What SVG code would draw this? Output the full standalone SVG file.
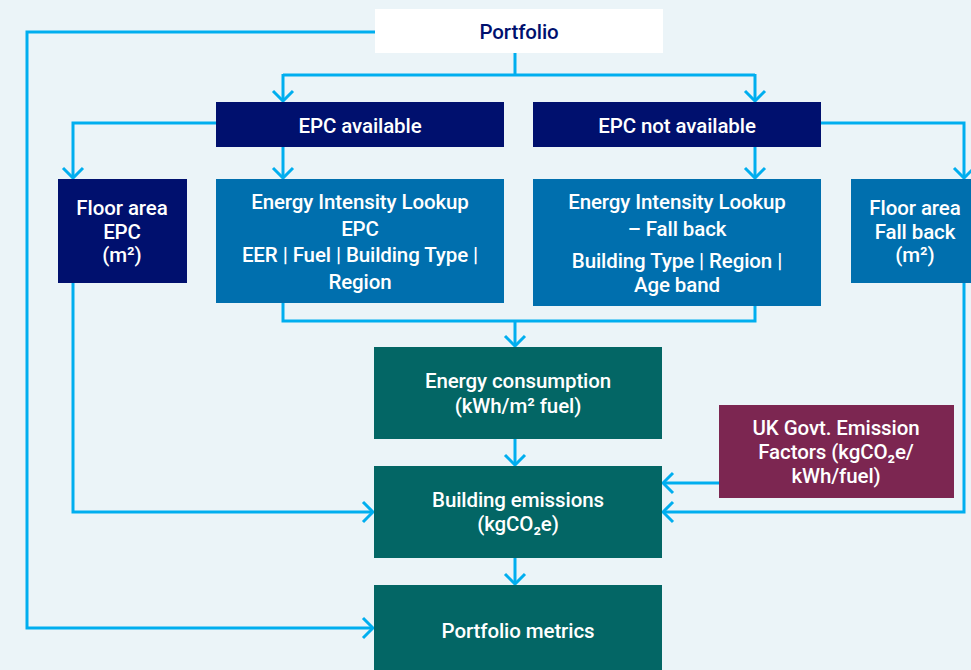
<svg xmlns="http://www.w3.org/2000/svg" width="971" height="670" viewBox="0 0 971 670">
  <style>
    .bg { fill: #ebf4f8; }
    .white { fill: #ffffff; }
    .navy { fill: #00106e; }
    .blue { fill: #006fae; }
    .teal { fill: #036665; }
    .plum { fill: #7c2651; }
    text { font-family: Roboto, "Noto Sans", sans-serif; font-weight: 500; font-size: 20.5px; text-anchor: middle; fill: #ffffff; letter-spacing: -0.1px; }
    text.dark { fill: #00106e; }
    .wire { fill: none; stroke: #00aeef; stroke-width: 3; }
  </style>
  <defs>
    <!-- open chevron arrowhead, tip at the end of the line -->
    <marker id="chev" viewBox="0 0 14 24" refX="12" refY="12" markerWidth="14" markerHeight="24" markerUnits="userSpaceOnUse" orient="auto">
      <path d="M2 2 L12 12 L2 22" fill="none" stroke="#00aeef" stroke-width="3"/>
    </marker>
  </defs>

  <rect class="bg" x="0" y="0" width="971" height="670"/>

  <!-- connectors -->
  <g id="connectors">
    <!-- Portfolio splits to the two EPC branches -->
    <path class="wire" d="M515 53 V75"/>
    <path class="wire" d="M283 75 H755"/>
    <path class="wire" d="M283 74 V101" marker-end="url(#chev)"/>
    <path class="wire" d="M755 74 V101" marker-end="url(#chev)"/>
    <!-- EPC available -> floor area / lookup -->
    <path class="wire" d="M216 123 H73 V178" marker-end="url(#chev)"/>
    <path class="wire" d="M283 147 V178" marker-end="url(#chev)"/>
    <!-- EPC not available -> lookup / floor area -->
    <path class="wire" d="M821 123 H964 V178" marker-end="url(#chev)"/>
    <path class="wire" d="M755 147 V178" marker-end="url(#chev)"/>
    <!-- lookups merge into energy consumption -->
    <path class="wire" d="M283 303 V321 H755 V306"/>
    <path class="wire" d="M515 321 V346" marker-end="url(#chev)"/>
    <!-- energy consumption -> building emissions -> metrics -->
    <path class="wire" d="M515 439 V465" marker-end="url(#chev)"/>
    <path class="wire" d="M515 558 V584" marker-end="url(#chev)"/>
    <!-- floor areas into building emissions -->
    <path class="wire" d="M73 283 V512 H373" marker-end="url(#chev)"/>
    <path class="wire" d="M964 283 V512 H663" marker-end="url(#chev)"/>
    <!-- emission factors into building emissions -->
    <path class="wire" d="M719 483 H663" marker-end="url(#chev)"/>
    <!-- portfolio straight to metrics -->
    <path class="wire" d="M375 32 H27 V628 H373" marker-end="url(#chev)"/>
  </g>

  <g id="portfolio">
    <rect class="white" x="375" y="9" width="288" height="44"/>
    <text class="dark" x="519" y="39">Portfolio</text>
  </g>

  <g id="epc-available">
    <rect class="navy" x="216" y="102" width="288" height="45"/>
    <text x="360" y="133">EPC available</text>
  </g>

  <g id="epc-not-available">
    <rect class="navy" x="533" y="102" width="288" height="45"/>
    <text x="677" y="133">EPC not available</text>
  </g>

  <g id="floor-area-epc">
    <rect class="navy" x="58" y="179" width="129" height="104"/>
    <text x="122" y="215">Floor area</text>
    <text x="122" y="239">EPC</text>
    <text x="122" y="262">(m²)</text>
  </g>

  <g id="lookup-epc">
    <rect class="blue" x="216" y="179" width="288" height="124"/>
    <text x="360" y="209">Energy Intensity Lookup</text>
    <text x="360" y="236">EPC</text>
    <text x="360" y="262">EER | Fuel | Building Type |</text>
    <text x="360" y="289">Region</text>
  </g>

  <g id="lookup-fallback">
    <rect class="blue" x="533" y="179" width="288" height="127"/>
    <text x="677" y="209">Energy Intensity Lookup</text>
    <text x="677" y="236">– Fall back</text>
    <text x="677" y="268">Building Type | Region |</text>
    <text x="677" y="292">Age band</text>
  </g>

  <g id="floor-area-fallback">
    <rect class="blue" x="851" y="179" width="129" height="104"/>
    <text x="915" y="215">Floor area</text>
    <text x="915" y="239">Fall back</text>
    <text x="915" y="262">(m²)</text>
  </g>

  <g id="energy-consumption">
    <rect class="teal" x="374" y="347" width="288" height="92"/>
    <text x="518" y="388">Energy consumption</text>
    <text x="518" y="413">(kWh/m² fuel)</text>
  </g>

  <g id="emission-factors">
    <rect class="plum" x="719" y="405" width="235" height="93"/>
    <text x="836" y="435">UK Govt. Emission</text>
    <text x="836" y="459">Factors (kgCO₂e/</text>
    <text x="836" y="483">kWh/fuel)</text>
  </g>

  <g id="building-emissions">
    <rect class="teal" x="374" y="466" width="288" height="92"/>
    <text x="518" y="507">Building emissions</text>
    <text x="518" y="531">(kgCO₂e)</text>
  </g>

  <g id="portfolio-metrics">
    <rect class="teal" x="374" y="585" width="288" height="90"/>
    <text x="518" y="638">Portfolio metrics</text>
  </g>
</svg>
